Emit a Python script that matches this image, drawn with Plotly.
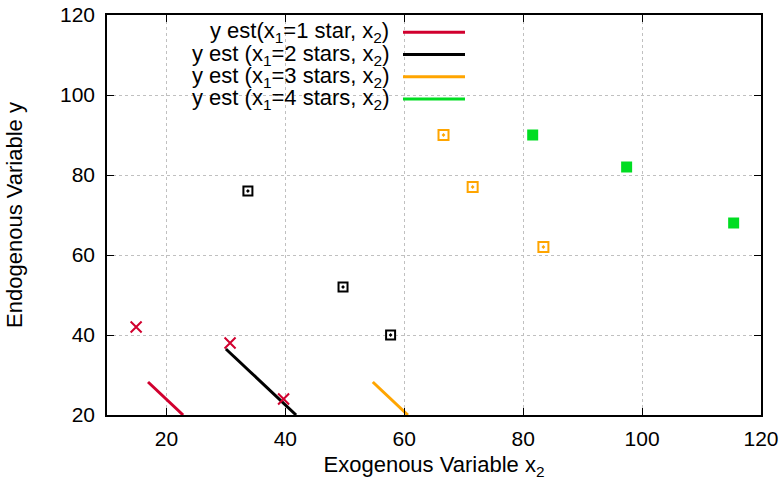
import plotly.graph_objects as go

# scatter data
x1_star1 = [14.9, 30.7, 39.7]
y1_star1 = [42, 38, 24]
x1_star2 = [33.7, 49.7, 57.7]
y1_star2 = [76, 52, 40]
x1_star3 = [66.6, 71.5, 83.4]
y1_star3 = [90, 77, 62]
x1_star4 = [81.6, 97.4, 115.4]
y1_star4 = [90, 82, 68]

# fitted line segments (endpoints)
line1_x = [16.9, 22.8]
line1_y = [28.25, 20]
line2_x = [30.0, 41.8]
line2_y = [36.5, 20]
line3_x = [54.7, 60.6]
line3_y = [28.25, 20]
line4_x = []
line4_y = []

tick_vals = [20, 40, 60, 80, 100, 120]

legend_labels = [
    "y est(x<sub>1</sub>=1 star, x<sub>2</sub>)",
    "y est (x<sub>1</sub>=2 stars, x<sub>2</sub>)",
    "y est (x<sub>1</sub>=3 stars, x<sub>2</sub>)",
    "y est (x<sub>1</sub>=4 stars, x<sub>2</sub>)",
]

RED = "#d1002e"
BLACK = "#000000"
ORANGE = "#ffa500"
GREEN = "#00dd22"
colors = [RED, BLACK, ORANGE, GREEN]

FONT = "Liberation Sans, Arial, sans-serif"
FS = 21
FS_T = 22

fig = go.Figure()
for lx, ly, c in [(line1_x, line1_y, RED), (line2_x, line2_y, BLACK),
                  (line3_x, line3_y, ORANGE), (line4_x, line4_y, GREEN)]:
    fig.add_trace(go.Scatter(x=lx, y=ly, mode="lines",
                             line=dict(color=c, width=3), showlegend=False))

fig.add_trace(go.Scatter(x=x1_star1, y=y1_star1, mode="markers",
                         marker=dict(symbol="x-thin", size=11, color=RED,
                                     line=dict(color=RED, width=2)),
                         showlegend=False))
fig.add_trace(go.Scatter(x=x1_star2, y=y1_star2, mode="markers",
                         marker=dict(symbol="square-open-dot", size=9, color=BLACK,
                                     line=dict(color=BLACK, width=2)),
                         showlegend=False))
fig.add_trace(go.Scatter(x=x1_star3, y=y1_star3, mode="markers",
                         marker=dict(symbol="square-open-dot", size=10, color=ORANGE,
                                     line=dict(color=ORANGE, width=2)),
                         showlegend=False))
fig.add_trace(go.Scatter(x=x1_star4, y=y1_star4, mode="markers",
                         marker=dict(symbol="square", size=11, color=GREEN,
                                     line=dict(width=0)),
                         showlegend=False))

# manual legend (text right-aligned, sample line to the right)
W, H = 781, 483
L, R, T, B = 107, 20, 15, 68
pw, ph = W - L - R, H - T - B
rows_px = [32.3, 54.5, 76.7, 99.0]
for lab, c, ypx in zip(legend_labels, colors, rows_px):
    yp = 1 - (ypx - T) / ph
    x_text = (391 - L) / pw
    fig.add_annotation(xref="paper", yref="paper", x=x_text, y=yp,
                       text=lab, showarrow=False, xanchor="right", yanchor="middle",
                       font=dict(family=FONT, size=FS_T, color="black"))
    fig.add_shape(type="line", xref="paper", yref="paper",
                  x0=(403 - L) / pw, x1=(465 - L) / pw, y0=yp, y1=yp,
                  line=dict(color=c, width=3))

axis_common = dict(
    showline=True, linecolor="black", linewidth=1.5, mirror="allticks",
    ticks="inside", ticklen=7, tickcolor="black", tickwidth=1,
    showgrid=True, gridcolor="#c0c0c0", griddash="dot", gridwidth=1,
    zeroline=False, automargin=False,
    tickfont=dict(family=FONT, size=FS, color="black"),
)
fig.update_xaxes(range=[10, 120], tickvals=tick_vals, ticklabelstandoff=4,
                 title=dict(text="Exogenous Variable x<sub>2</sub>",
                            font=dict(family=FONT, size=FS_T, color="black"), standoff=8),
                 **axis_common)
fig.update_yaxes(range=[20, 120], tickvals=tick_vals, ticklabelstandoff=6,
                 title=dict(text="Endogenous Variable y",
                            font=dict(family=FONT, size=FS_T, color="black"), standoff=31),
                 **axis_common)

fig.update_layout(width=W, height=H, margin=dict(l=L, r=R, t=T, b=B),
                  plot_bgcolor="white", paper_bgcolor="white", showlegend=False)

fig.write_html("out.html")
